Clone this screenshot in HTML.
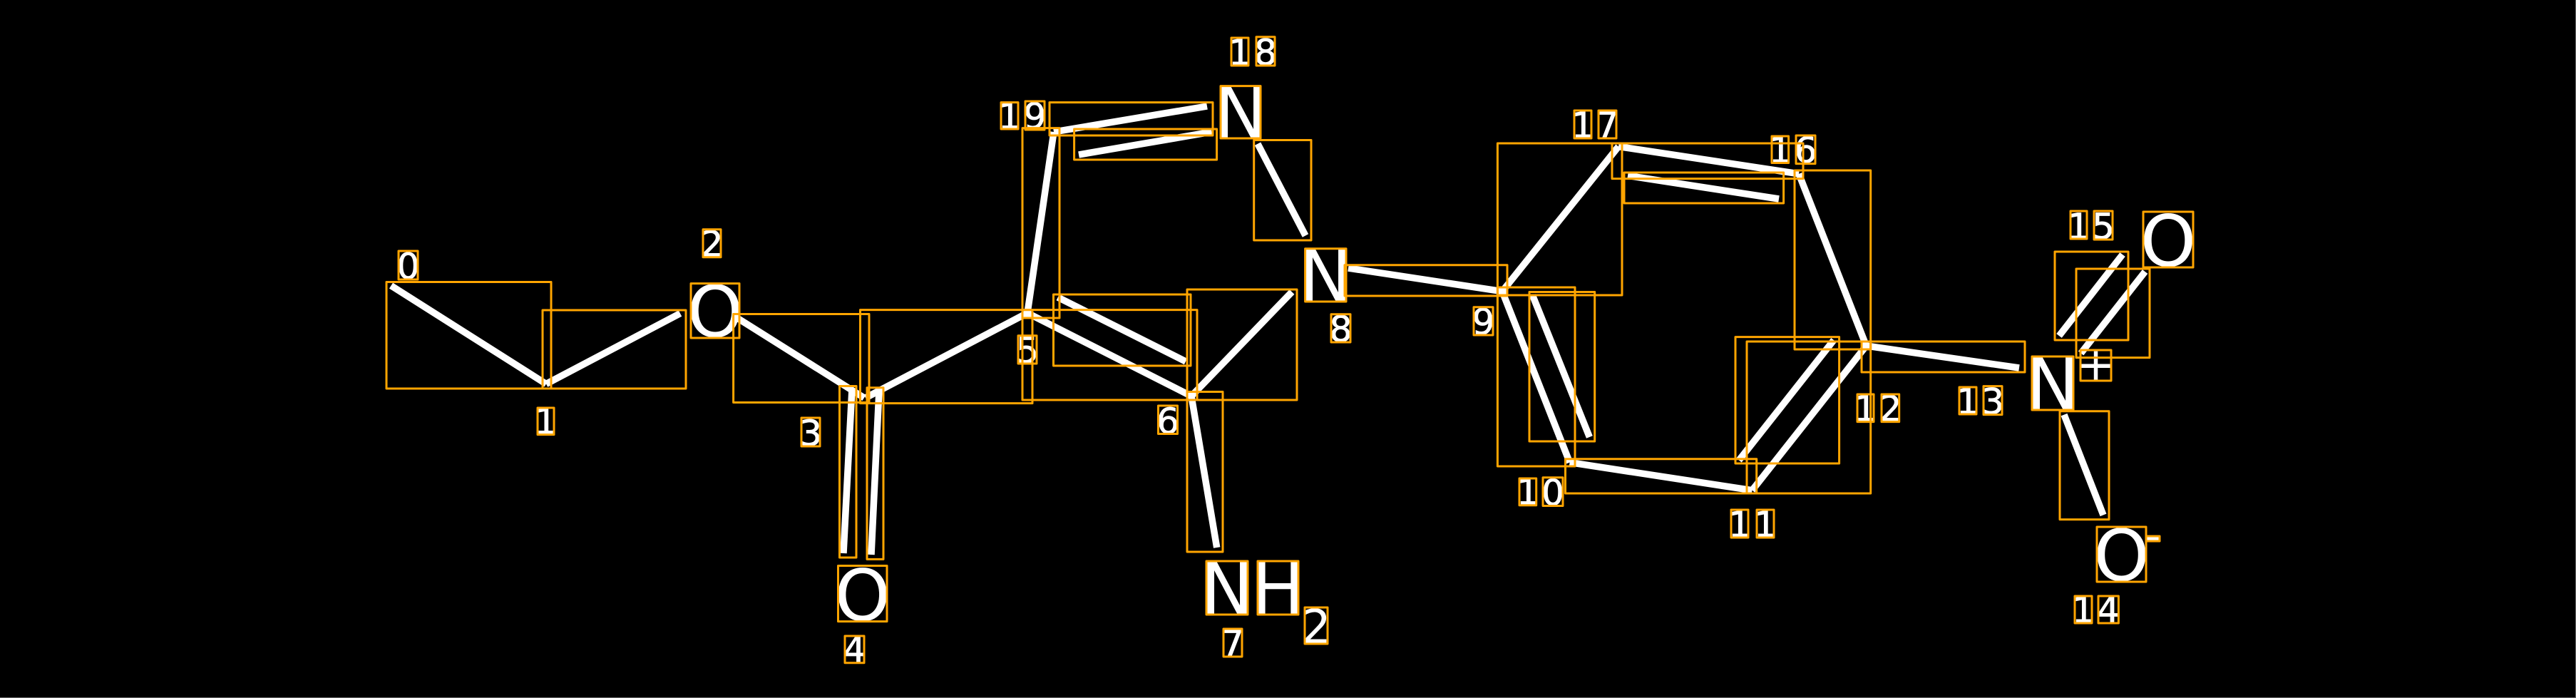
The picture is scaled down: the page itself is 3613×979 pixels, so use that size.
<!DOCTYPE html>
<html><head><meta charset="utf-8"><style>
html,body{margin:0;padding:0;background:#000}
svg{display:block}
text{font-family:"DejaVu Sans",sans-serif;fill:#fff;text-anchor:middle}
.s{font-size:50px;stroke:#fff;stroke-width:.8px}.b{font-size:100px}.m{font-size:66px}
.l line{stroke:#fff;stroke-width:9.5;stroke-linecap:butt}
.r rect{fill:none;stroke:#FFA500;stroke-width:3;stroke-linejoin:round}
</style></head><body>
<svg width="3613" height="979" viewBox="0 0 3613 979" xmlns="http://www.w3.org/2000/svg">
<rect width="3613" height="979" fill="#000"/>
<rect x="3612" y="0" width="1" height="979" fill="#666"/>
<rect x="0" y="978" width="3613" height="1" fill="#666"/>
<g class="l">
<line x1="548.5" y1="400.6" x2="766" y2="538.5"/>
<line x1="766" y1="538.5" x2="954" y2="439.6"/>
<line x1="1035" y1="446.6" x2="1212" y2="558"/>
<line x1="1195" y1="545" x2="1183" y2="776"/>
<line x1="1233" y1="547" x2="1222" y2="778"/>
<line x1="1214" y1="558" x2="1441" y2="439"/>
<line x1="1441" y1="439" x2="1478" y2="185"/>
<line x1="1478" y1="185" x2="1693" y2="149"/>
<line x1="1513" y1="217" x2="1699.5" y2="185"/>
<line x1="1764" y1="201.7" x2="1831" y2="330.5"/>
<line x1="1441" y1="439" x2="1671" y2="555.6"/>
<line x1="1483.7" y1="417" x2="1663" y2="507"/>
<line x1="1671" y1="555.6" x2="1812" y2="409.4"/>
<line x1="1671" y1="555.6" x2="1706.7" y2="768"/>
<line x1="1891" y1="376" x2="2107" y2="408.7"/>
<line x1="2107" y1="408.7" x2="2270" y2="205.5"/>
<line x1="2270" y1="205.5" x2="2523" y2="243.8"/>
<line x1="2283" y1="246.4" x2="2495" y2="279"/>
<line x1="2523" y1="243.8" x2="2617.5" y2="485"/>
<line x1="2617.5" y1="485" x2="2832" y2="516"/>
<line x1="2617.5" y1="485" x2="2457.5" y2="687.7"/>
<line x1="2572" y1="477" x2="2439" y2="645.6"/>
<line x1="2201.6" y1="648.6" x2="2457.5" y2="687.7"/>
<line x1="2107" y1="408.7" x2="2201.6" y2="648.6"/>
<line x1="2149.4" y1="414" x2="2229.4" y2="613"/>
<line x1="2977" y1="357" x2="2888" y2="471"/>
<line x1="3008.6" y1="381" x2="2918.6" y2="495.5"/>
<line x1="2895" y1="581.6" x2="2950" y2="722.4"/>
</g>
<g>
<text class="b" x="1003" y="472">O</text>
<text class="b" x="1209.75" y="870">O</text>
<text class="b" x="1740" y="193">N</text>
<text class="b" x="1859" y="422">N</text>
<text class="b" x="1721" y="861">N</text>
<text class="b" x="1792.5" y="861">H</text>
<text class="b" x="2879" y="574">N</text>
<text class="b" x="3041" y="373">O</text>
<text class="b" x="2975.5" y="814">O</text>
<text class="m" x="1846" y="902">2</text>
<text class="m" x="2939.5" y="534">+</text>
<text class="m" x="3019.5" y="773.5">-</text>
<text class="s" x="572.5" y="391">0</text>
<text class="s" x="765.5" y="608.5">1</text>
<text class="s" x="998.5" y="359.5">2</text>
<text class="s" x="1137" y="625">3</text>
<text class="s" x="1198.5" y="928.5">4</text>
<text class="s" x="1441" y="509">5</text>
<text class="s" x="1638" y="608">6</text>
<text class="s" x="1729" y="920">7</text>
<text class="s" x="1880.5" y="479">8</text>
<text class="s" x="2080.5" y="469">9</text>
<text class="s" x="2143" y="707.5">1</text><text class="s" x="2178" y="708.5">0</text>
<text class="s" x="2440" y="753">1</text><text class="s" x="2476" y="753">1</text>
<text class="s" x="2616.5" y="590.5">1</text><text class="s" x="2651.5" y="590.5">2</text>
<text class="s" x="2760" y="580.5">1</text><text class="s" x="2795" y="580.5">3</text>
<text class="s" x="2922" y="873">1</text><text class="s" x="2957" y="873">4</text>
<text class="s" x="2915.5" y="335">1</text><text class="s" x="2950" y="335">5</text>
<text class="s" x="2497" y="228">1</text><text class="s" x="2532.5" y="228">6</text>
<text class="s" x="2220" y="193">1</text><text class="s" x="2254.5" y="193">7</text>
<text class="s" x="1739" y="91">1</text><text class="s" x="1775" y="91">8</text>
<text class="s" x="1416" y="180.5">1</text><text class="s" x="1451.5" y="180.5">9</text>
</g>
<g class="r">
<rect x="542" y="395.5" width="231" height="149.5"/>
<rect x="761" y="435" width="201" height="110"/>
<rect x="1028.6" y="440.5" width="190.4" height="124"/>
<rect x="1177.5" y="541.5" width="23.5" height="240.5"/>
<rect x="1216" y="543.7" width="23" height="240.7"/>
<rect x="1206.5" y="434.6" width="241.5" height="131"/>
<rect x="1434" y="179.6" width="52" height="266.4"/>
<rect x="1472" y="143.6" width="229" height="46.4"/>
<rect x="1506.6" y="181" width="200" height="43"/>
<rect x="1758.7" y="196.5" width="80.3" height="140.5"/>
<rect x="1434" y="434.6" width="245" height="126.4"/>
<rect x="1477.5" y="413" width="192.5" height="100"/>
<rect x="1665" y="406" width="154" height="155"/>
<rect x="1665" y="549.5" width="50" height="224.5"/>
<rect x="1886" y="371.7" width="228" height="43.3"/>
<rect x="2100.4" y="201" width="174.6" height="213"/>
<rect x="2261" y="201" width="268" height="49.6"/>
<rect x="2278" y="242" width="223.6" height="43"/>
<rect x="2517" y="239" width="106.7" height="251"/>
<rect x="2611" y="479" width="229" height="43"/>
<rect x="2450" y="479" width="173.7" height="213"/>
<rect x="2434" y="472.6" width="145.6" height="177.4"/>
<rect x="2195.5" y="643.7" width="268.2" height="48.3"/>
<rect x="2100.4" y="403" width="108.6" height="251"/>
<rect x="2145" y="409.5" width="91.7" height="209.5"/>
<rect x="2882" y="353" width="103" height="124"/>
<rect x="2912" y="377" width="103" height="124.6"/>
<rect x="2889" y="576.7" width="69" height="151.9"/>
<rect x="969" y="397.6" width="68" height="76.4"/>
<rect x="1175.5" y="793.5" width="68.5" height="78.1"/>
<rect x="1712" y="120.6" width="56" height="73.4"/>
<rect x="1830.6" y="348.7" width="57.4" height="74.3"/>
<rect x="1692" y="787" width="58" height="75"/>
<rect x="1764" y="787" width="57" height="75"/>
<rect x="1830" y="852" width="32" height="51"/>
<rect x="2850" y="500" width="58" height="75"/>
<rect x="3006" y="297" width="70" height="78"/>
<rect x="2941" y="739" width="69" height="77"/>
<rect x="2918" y="491" width="43" height="43"/>
<rect x="3010" y="752" width="19" height="7"/>
<rect x="559" y="352" width="27" height="40"/>
<rect x="754" y="572" width="23" height="37.6"/>
<rect x="986" y="321.7" width="25" height="39"/>
<rect x="1124" y="586" width="26" height="40"/>
<rect x="1185" y="892" width="27" height="37.7"/>
<rect x="1428" y="470.7" width="26" height="39.3"/>
<rect x="1624.5" y="569" width="27" height="39.5"/>
<rect x="1716" y="882" width="26" height="39"/>
<rect x="1867" y="440.7" width="27" height="39.3"/>
<rect x="2067" y="430.7" width="27" height="39.3"/>
<rect x="2131" y="671" width="23.7" height="37.7"/>
<rect x="2164" y="669.7" width="28" height="39.8"/>
<rect x="2428" y="715" width="24" height="39"/>
<rect x="2464" y="715" width="24" height="39"/>
<rect x="2605" y="553" width="23" height="38.6"/>
<rect x="2639" y="553" width="24.7" height="38.6"/>
<rect x="2748" y="543" width="24" height="38"/>
<rect x="2782" y="541.6" width="26" height="40"/>
<rect x="2910" y="836" width="24" height="38"/>
<rect x="2943" y="836" width="28.4" height="38"/>
<rect x="2904" y="296" width="23" height="39"/>
<rect x="2937" y="296" width="26" height="40"/>
<rect x="2485" y="191" width="23.6" height="37.5"/>
<rect x="2519" y="190" width="27" height="39.6"/>
<rect x="2208" y="155" width="24" height="39"/>
<rect x="2242" y="155" width="25" height="39"/>
<rect x="1727" y="53" width="24" height="39"/>
<rect x="1762" y="51.7" width="26" height="40.3"/>
<rect x="1404" y="143.6" width="24" height="37.4"/>
<rect x="1438" y="142" width="27" height="40"/>
</g>
</svg>
</body></html>
